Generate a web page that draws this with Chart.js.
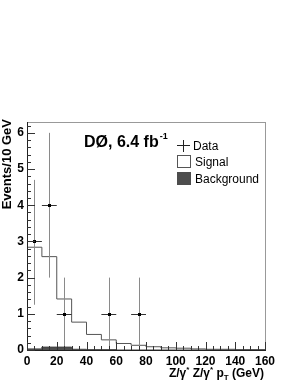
<!DOCTYPE html>
<html>
<head>
<meta charset="utf-8">
<script src="https://cdn.jsdelivr.net/npm/chart.js@4"></script>
<style>
  body { margin: 0; background: #fff; }
  canvas { display: block; }
</style>
</head>
<body>
<canvas id="myChart" width="298" height="385"></canvas>
<script>
// histogram bins (GeV), lower edges
let binEdges = [0, 10, 20, 30, 40, 50, 60, 70, 80, 90, 100, 110, 120, 130, 140, 150, 160]
let signal = [2.84, 2.58, 1.41, 0.77, 0.43, 0.28, 0.18, 0.13, 0.09, 0.06, 0.05, 0.03, 0.02, 0.02, 0.01, 0.01]
let background = [0.03, 0.08, 0.08, 0.02, 0.01, 0.01, 0, 0, 0, 0, 0, 0, 0, 0, 0, 0]

// data points with errors
let dataX = [5, 15, 25, 55, 75]
let dataY = [3, 4, 1, 1, 1]
let dataLow = [1.25, 2, 0, 0, 0]
let dataHigh = [4.7, 6, 2, 2, 2]
let dataXErr = [5, 5, 5, 5, 5]

let xTicks = [0, 20, 40, 60, 80, 100, 120, 140, 160]
let yTicks = [0, 1, 2, 3, 4, 5, 6]

function stepPoints(vals){
    let pts = vals.map((v, i) => ({x: binEdges[i], y: v}))
    pts.push({x: binEdges[vals.length], y: vals[vals.length - 1]})
    return pts
}

const FONT = '"Liberation Sans", Arial, Helvetica, sans-serif'

// frame, inner ticks, error bars, texts
const decor = {
    id: 'decor',
    afterDatasetsDraw(chart){
        let ctx = chart.ctx
        let xs = chart.scales.x, ys = chart.scales.y
        let a = chart.chartArea
        ctx.save()

        // error bars
        for (let i = 0; i < dataX.length; i++) {
            let px = xs.getPixelForValue(dataX[i])
            let py = ys.getPixelForValue(dataY[i])
            ctx.strokeStyle = '#8a8a8a'
            ctx.lineWidth = 1
            ctx.beginPath()
            ctx.moveTo(Math.round(px) + 0.5, ys.getPixelForValue(dataLow[i]))
            ctx.lineTo(Math.round(px) + 0.5, ys.getPixelForValue(dataHigh[i]))
            ctx.stroke()
            ctx.strokeStyle = '#333'
            ctx.beginPath()
            ctx.moveTo(xs.getPixelForValue(dataX[i] - dataXErr[i]), Math.round(py) + 0.5)
            ctx.lineTo(xs.getPixelForValue(dataX[i] + dataXErr[i]), Math.round(py) + 0.5)
            ctx.stroke()
            ctx.fillStyle = '#000'
            ctx.fillRect(Math.round(px) - 1, Math.round(py) - 1, 3, 3)
        }

        // frame
        ctx.strokeStyle = '#999'
        ctx.lineWidth = 1
        ctx.strokeRect(Math.round(a.left) + 0.5, Math.round(a.top) + 0.5, Math.round(a.right - a.left), Math.round(a.bottom - a.top))
        ctx.strokeStyle = '#222'
        ctx.beginPath()
        ctx.moveTo(Math.round(a.left) + 0.5, a.top)
        ctx.lineTo(Math.round(a.left) + 0.5, Math.round(a.bottom) + 0.5)
        ctx.lineTo(a.right + 1, Math.round(a.bottom) + 0.5)
        ctx.stroke()

        // y ticks
        ctx.strokeStyle = '#333'
        for (let v = 0; v <= ys.max + 1e-9; v += 0.2) {
            let major = Math.abs(v - Math.round(v)) < 1e-6
            let py = Math.round(ys.getPixelForValue(v)) + 0.5
            ctx.beginPath()
            ctx.moveTo(a.left, py)
            ctx.lineTo(a.left + (major ? 8 : 4), py)
            ctx.stroke()
        }
        // x ticks
        for (let v = 0; v <= xs.max; v += 5) {
            let major = v % 20 === 0
            let px = Math.round(xs.getPixelForValue(v)) + 0.5
            ctx.beginPath()
            ctx.moveTo(px, a.bottom)
            ctx.lineTo(px, a.bottom - (major ? 8 : 4))
            ctx.stroke()
        }

        // y title
        ctx.fillStyle = '#000'
        ctx.font = 'bold 13px ' + FONT
        ctx.translate(11, 119)
        ctx.rotate(-Math.PI / 2)
        ctx.textAlign = 'right'
        ctx.textBaseline = 'alphabetic'
        ctx.fillText('Events/10 GeV', 0, 0)
        ctx.setTransform(1, 0, 0, 1, 0, 0)

        // x title, right aligned near the plot edge
        let parts = [
            ['Z/\u03b3', 0, 12], ['*', -5, 8], [' Z/\u03b3', 0, 12], ['*', -5, 8],
            [' p', 0, 12], ['T', 3, 8], [' (GeV)', 0, 12]
        ]
        let total = 0
        parts.forEach(p => { ctx.font = 'bold ' + p[2] + 'px ' + FONT; total += ctx.measureText(p[0]).width })
        let tx = 264 - total
        ctx.textAlign = 'left'
        parts.forEach(p => {
            ctx.font = 'bold ' + p[2] + 'px ' + FONT
            ctx.fillText(p[0], tx, 377 + p[1])
            tx += ctx.measureText(p[0]).width
        })

        // experiment label
        ctx.font = 'bold 16px ' + FONT
        ctx.fillText('D\u00d8, 6.4 fb', 84, 147)
        let w = ctx.measureText('D\u00d8, 6.4 fb').width
        ctx.font = 'bold 9px ' + FONT
        ctx.fillText('-1', 84 + w + 1, 139)

        // legend
        ctx.font = '12px ' + FONT
        ctx.strokeStyle = '#222'
        ctx.beginPath()
        ctx.moveTo(177, 145.5); ctx.lineTo(190, 145.5)
        ctx.moveTo(183.5, 140); ctx.lineTo(183.5, 152)
        ctx.stroke()
        ctx.fillText('Data', 193, 150)
        ctx.strokeStyle = '#555'
        ctx.strokeRect(177.5, 155.5, 13, 12)
        ctx.fillText('Signal', 195, 166)
        ctx.fillStyle = '#4d4d4d'
        ctx.fillRect(177, 172, 14, 13)
        ctx.fillStyle = '#000'
        ctx.fillText('Background', 195, 183)

        ctx.restore()
    }
}

new Chart('myChart', {
    type: 'line',
    data: {
        datasets: [{
            data: stepPoints(background),
            stepped: 'before',
            borderColor: '#444',
            backgroundColor: '#4d4d4d',
            borderWidth: 1,
            fill: 'origin',
            pointRadius: 0
        }, {
            data: stepPoints(signal),
            stepped: 'before',
            borderColor: '#555',
            borderWidth: 1,
            fill: false,
            pointRadius: 0
        }]
    },
    plugins: [decor],
    options: {
        responsive: false,
        devicePixelRatio: 1,
        animation: false,
        layout: { padding: { left: 0, top: 122, right: 33, bottom: 0 } },
        plugins: { legend: { display: false }, tooltip: { enabled: false } },
        scales: {
            x: {
                type: 'linear',
                min: 0, max: 160,
                afterFit: s => { s.height = 35 },
                afterBuildTicks: s => { s.ticks = xTicks.map(v => ({value: v})) },
                grid: { display: false, drawTicks: false },
                border: { display: false },
                ticks: { color: '#000', font: { family: FONT, size: 12, weight: 'bold' }, padding: 4, maxRotation: 0 }
            },
            y: {
                min: 0, max: 6.3,
                afterFit: s => { s.width = 27 },
                afterBuildTicks: s => { s.ticks = yTicks.map(v => ({value: v})) },
                grid: { display: false, drawTicks: false },
                border: { display: false },
                ticks: { color: '#000', font: { family: FONT, size: 12, weight: 'bold' }, padding: 3 }
            }
        }
    }
})
</script>
</body>
</html>
